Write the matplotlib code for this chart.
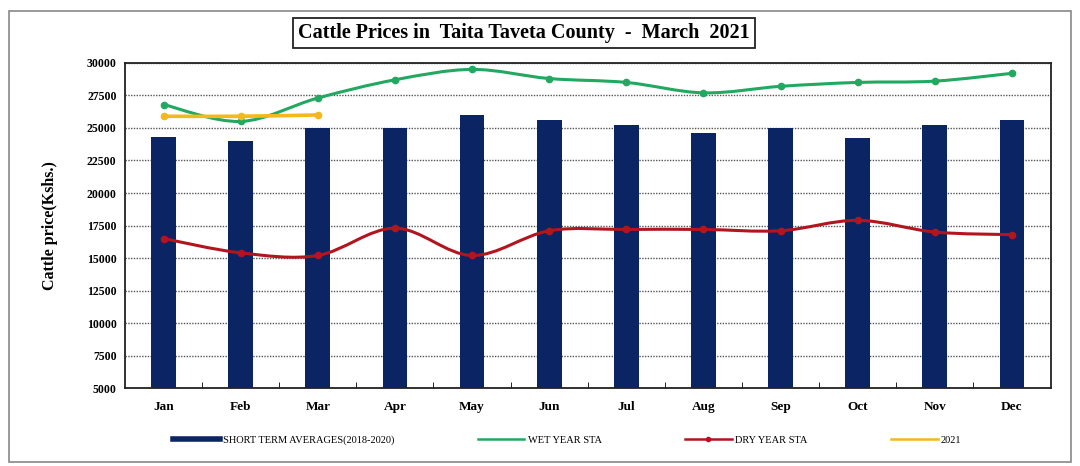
import numpy as np
import matplotlib
matplotlib.use("Agg")
import matplotlib.pyplot as plt
from matplotlib.path import Path
from matplotlib.patches import PathPatch, Rectangle
from matplotlib.lines import Line2D

plt.rcParams["font.family"] = ["Liberation Serif", "DejaVu Serif"]

months = ["Jan", "Feb", "Mar", "Apr", "May", "Jun", "Jul", "Aug", "Sep", "Oct", "Nov", "Dec"]
short_term_avg = [24300, 24000, 25000, 25000, 26000, 25600, 25200, 24600, 25000, 24200, 25200, 25600]
wet_year_sta = [26800, 25500, 27300, 28700, 29500, 28800, 28500, 27700, 28200, 28500, 28600, 29200]
dry_year_sta = [16500, 15400, 15200, 17300, 15200, 17100, 17200, 17200, 17100, 17900, 17000, 16800]
prices_2021 = [25900, 25900, 26000]

BAR_COLOR = "#0b2463"
WET_COLOR = "#22a860"
DRY_COLOR = "#b3151f"
Y2021_COLOR = "#f2b81c"


def smooth_path(xs, ys):
    # Catmull-Rom style bezier through the points (like a spreadsheet "smoothed line")
    xs = np.asarray(xs, float)
    ys = np.asarray(ys, float)
    verts = [(xs[0], ys[0])]
    codes = [Path.MOVETO]
    n = len(xs)
    for i in range(n - 1):
        p0 = np.array([xs[max(i - 1, 0)], ys[max(i - 1, 0)]])
        p1 = np.array([xs[i], ys[i]])
        p2 = np.array([xs[i + 1], ys[i + 1]])
        p3 = np.array([xs[min(i + 2, n - 1)], ys[min(i + 2, n - 1)]])
        c1 = p1 + (p2 - p0) / 6.0
        c2 = p2 - (p3 - p1) / 6.0
        verts += [tuple(c1), tuple(c2), tuple(p2)]
        codes += [Path.CURVE4] * 3
    return Path(verts, codes)


fig = plt.figure(figsize=(10.8, 4.66), dpi=100)
fig.patches.append(Rectangle((0.008, 0.008), 0.984, 0.968, transform=fig.transFigure,
                             fill=False, edgecolor="#888888", linewidth=1.2))

ax = fig.add_axes([0.1157, 0.167, 0.857, 0.698])
x = np.arange(len(months))

ax.bar(x, short_term_avg, width=0.32, color=BAR_COLOR, zorder=2)

for vals, col, lw in [(wet_year_sta, WET_COLOR, 2.2), (dry_year_sta, DRY_COLOR, 2.2),
                      (prices_2021, Y2021_COLOR, 2.6)]:
    xx = x[:len(vals)]
    ax.add_patch(PathPatch(smooth_path(xx, vals), fill=False, edgecolor=col,
                           linewidth=lw, zorder=3))
    ax.plot(xx, vals, linestyle="none", marker="o", markersize=4.5, color=col, zorder=4)

ax.set_ylim(5000, 30000)
ax.set_xlim(-0.5, 11.5)
ax.set_yticks(range(5000, 30001, 2500))
ax.set_yticklabels([str(v) for v in range(5000, 30001, 2500)], fontsize=8.5, fontweight="bold")
ax.set_xticks(x)
ax.set_xticklabels(months, fontsize=9.5, fontweight="bold")
ax.tick_params(axis="x", length=0, pad=9)
ax.tick_params(axis="y", length=0, pad=6)
ax.set_xticks(np.arange(0.5, 11.5, 1), minor=True)
ax.tick_params(axis="x", which="minor", length=4, direction="in")

ax.yaxis.grid(True, linestyle=(0, (1, 1)), color="#555555", linewidth=1.0, zorder=1)
ax.set_axisbelow(True)
for s in ax.spines.values():
    s.set_linewidth(1.3)
    s.set_color("#222222")

ax.set_ylabel("Cattle price(Kshs.)", fontsize=11.5, fontweight="bold", labelpad=21)

fig.text(0.485, 0.93, "Cattle Prices in  Taita Taveta County  -  March  2021",
         ha="center", va="center", fontsize=14.5, fontweight="bold",
         bbox=dict(boxstyle="square,pad=0.25", facecolor="white", edgecolor="#222222", linewidth=1.3))

handles = [
    Line2D([], [], color=BAR_COLOR, linewidth=4),
    Line2D([], [], color=WET_COLOR, linewidth=1.8),
    Line2D([], [], color=DRY_COLOR, linewidth=1.8, marker="o", markersize=3),
    Line2D([], [], color=Y2021_COLOR, linewidth=1.8),
]
labels = ["SHORT TERM AVERAGES(2018-2020)", "WET YEAR STA", "DRY YEAR STA", "2021"]
fig.legend(handles, labels, loc="center", bbox_to_anchor=(0.525, 0.055), ncol=4,
           frameon=False, fontsize=7.5, handlelength=4.5, columnspacing=8, handletextpad=0.3)

fig.savefig("out.png", dpi=100)
